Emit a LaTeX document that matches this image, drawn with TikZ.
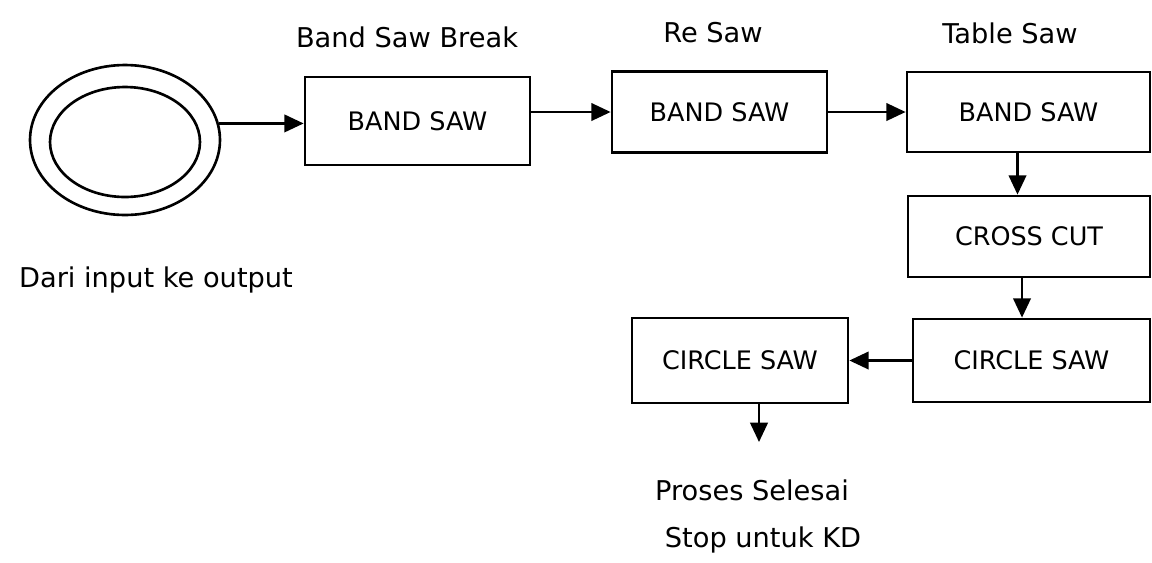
\documentclass[tikz,border=0pt]{standalone}
\usepackage{fontspec}
\setmainfont{DejaVu Sans}
\usetikzlibrary{arrows.meta,calc,shapes.geometric}
\tikzset{flow/.style={line width=1.3pt,-{Triangle[length=11pt,width=10pt]}},
  sawbox/.style={draw, line width=1.6pt, inner sep=0pt, font=\fontsize{14.5}{16}\selectfont},
  lbl/.style={font=\fontsize{15.5}{17}\selectfont, inner sep=0pt}}

\begin{document}
\begin{tikzpicture}[x=0.02cm,y=-0.02cm]
  \useasboundingbox (0,0) rectangle (1152,562);
  \node[ellipse, draw, line width=1.5pt, minimum width=3.8cm, minimum height=3cm] (src) at (125,140) {};
  \node[ellipse, draw, line width=1.5pt, minimum width=3cm, minimum height=2.2cm] (srcin) at (125,142) {};
  \node[lbl] (note) at (156,280) {Dari input ke output};
  \node[sawbox, minimum width=4.5cm, minimum height=1.76cm] (b1) at (417.5,121) {BAND SAW};
  \node[sawbox, minimum width=4.3cm, minimum height=1.62cm] (b2) at (719.5,112) {BAND SAW};
  \node[sawbox, minimum width=4.86cm, minimum height=1.6cm] (b3) at (1028.5,112) {BAND SAW};
  \node[sawbox, minimum width=4.84cm, minimum height=1.62cm] (cc) at (1029,236.5) {CROSS CUT};
  \node[sawbox, minimum width=4.74cm, minimum height=1.66cm] (cs1) at (1031.5,360.5) {CIRCLE SAW};
  \node[sawbox, minimum width=4.32cm, minimum height=1.7cm] (cs2) at (740,360.5) {CIRCLE SAW};
  \node[lbl] (t1) at (407,37) {Band Saw Break};
  \node[lbl] (t2) at (713,33) {Re Saw};
  \node[lbl] (t3) at (1010,33) {Table Saw};
  \node[lbl] (done) at (752,490) {Proses Selesai};
  \node[lbl] (stop) at (763,540) {Stop untuk KD};
  \coordinate (d1) at ($(b3.south)+(-11,0)$);
  \coordinate (d2) at ($(cc.south)+(-7,0)$);
  \coordinate (end) at (759,442);
  % connectors
  \draw[flow] (src.10) -- (src.10 -| b1.west);
  \draw[flow] (b1.east |- b2.west) -- (b2.west);
  \draw[flow] (b2.east) -- (b3.west);
  \draw[flow] (d1) -- (d1 |- cc.north);
  \draw[flow] (d2) -- (d2 |- cs1.north);
  \draw[flow] (cs1.west) -- (cs2.east);
  \draw[flow] (cs2.south -| end) -- (end);
\end{tikzpicture}
\end{document}
